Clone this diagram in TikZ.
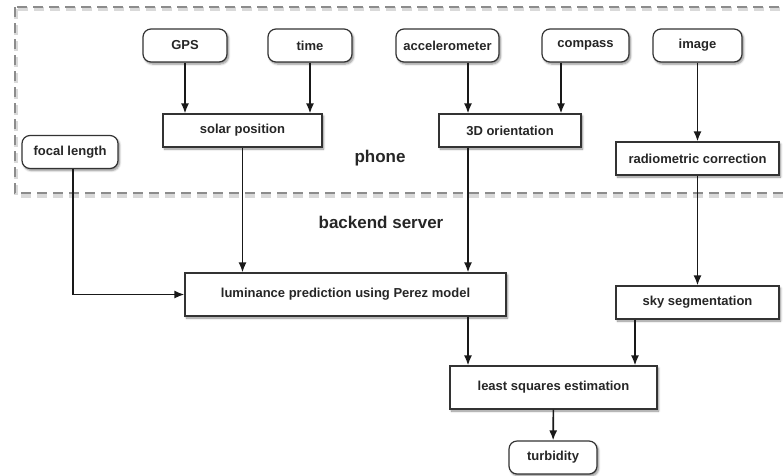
\documentclass[tikz,border=0pt]{standalone}
\usepackage{fontspec}
\setmainfont{Liberation Sans}
\usetikzlibrary{positioning,arrows.meta,shadows.blur}

\begin{document}
\begin{tikzpicture}[
x=1pt,y=-1pt,
box/.style={
  draw=black!80,
  line width=1.2pt,
  fill=white,
  text=black!85,
  font=\fontsize{13}{15}\selectfont\bfseries,
  minimum height=33pt,
  inner sep=2pt,
  blur shadow={shadow xshift=1.5pt,shadow yshift=-2pt,shadow blur steps=6,shadow opacity=45}
  },
sensor/.style={
  box,
  rounded corners=8pt
  },
bigbox/.style={
  box,
  minimum height=43pt
  },
zone/.style={
  text=black!85,
  font=\fontsize{17}{20}\selectfont\bfseries
  },
flow/.style={
  ->,
  line width=1.6pt,
  black!90
  },
>={Latex[length=10pt,width=8pt]}]
\useasboundingbox (0,0) rectangle (783,475);

% phone region
\draw[black!15,line width=4pt,dash pattern=on 10pt off 6pt] (16,9) rectangle (795,196);
\draw[black!45,line width=1.8pt,dash pattern=on 10pt off 6pt] (15,7) rectangle (795,193);
\node[zone] (phone) at (380,158) {phone};
\node[zone] (backend) at (381,222) {backend server};

% inputs
\node[sensor,minimum width=84pt] (gps) at (185,45.5) {GPS};
\node[sensor,minimum width=84pt] (time) at (310,45.5) {time};
\node[sensor,minimum width=103pt] (acc) at (447.5,45.5) {accelerometer};
\node[sensor,minimum width=87pt] (compass) at (585.5,45.5) {compass};
\node[sensor,minimum width=89pt] (image) at (697.5,45.5) {image};
\node[sensor,minimum width=96pt] (focal) at (70,152) {focal length};

% processing
\node[box,minimum width=159pt] (solar) at (242.5,130.5) {solar position};
\node[box,minimum width=142pt] (orient) at (510,130.5) {3D orientation};
\node[box,minimum width=163pt] (radio) at (697.5,158.5) {radiometric correction};
\node[bigbox,minimum width=321pt] (lum) at (345.5,294.5) {luminance prediction using Perez model};
\node[box,minimum width=163pt] (sky) at (697.5,302.5) {sky segmentation};
\node[bigbox,minimum width=207pt] (lsq) at (553.5,387.5) {least squares estimation};
\node[sensor,minimum width=88pt] (turb) at (553,457.5) {turbidity};

% connectors
\foreach \src in {gps,time}
  \draw[flow] (\src) -- (\src |- solar.north);
\draw[flow] ([xshift=20.5pt]acc.south) -- ([xshift=20.5pt]acc.south |- orient.north);
\draw[flow] ([xshift=-24.5pt]compass.south) -- ([xshift=-24.5pt]compass.south |- orient.north);
\draw[flow] (image) -- (radio);
\draw[flow] (radio) -- (sky);
\draw[flow] (solar) -- (solar |- lum.north);
\draw[flow] ([xshift=-42pt]orient.south) -- ([xshift=-42pt]orient.south |- lum.north);
\draw[flow] ([xshift=3pt]focal.south) |- (lum.west);
\draw[flow] ([xshift=122.5pt]lum.south) -- ([xshift=122.5pt]lum.south |- lsq.north);
\draw[flow] ([xshift=-62.5pt]sky.south) -- ([xshift=-62.5pt]sky.south |- lsq.north);
\draw[flow] (lsq) -- (turb);

\end{tikzpicture}
\end{document}
